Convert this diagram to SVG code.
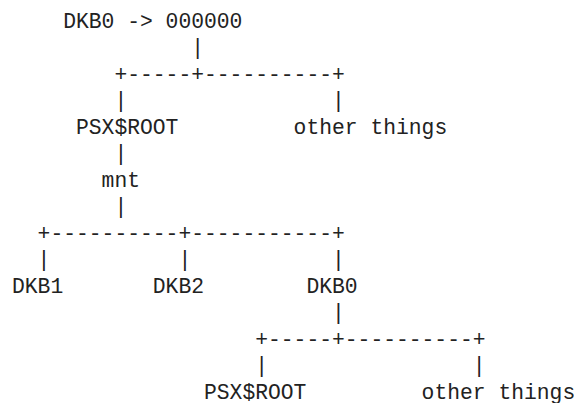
<svg xmlns="http://www.w3.org/2000/svg" width="574" height="403" viewBox="0 0 574 403">
  <style>
    text { font-family: "Liberation Mono", "DejaVu Sans Mono", monospace; font-size: 21.333px; fill: #222222; white-space: pre; }
  </style>
  <rect x="0" y="0" width="574" height="403" fill="#ffffff"/>
  <g id="connectors">
    <text x="191.2" y="54">|</text>
    <text x="114.4" y="80.5" xml:space="preserve">+-----+----------+</text>
    <text x="114.4" y="107">|</text>
    <text x="332" y="107">|</text>
    <text x="114.4" y="160">|</text>
    <text x="114.4" y="213">|</text>
    <text x="37.6" y="239.5" xml:space="preserve">+----------+-----------+</text>
    <text x="37.6" y="266">|</text>
    <text x="178.4" y="266">|</text>
    <text x="332" y="266">|</text>
    <text x="332" y="319">|</text>
    <text x="255.2" y="345.5" xml:space="preserve">+-----+----------+</text>
    <text x="255.2" y="372">|</text>
    <text x="472.8" y="372">|</text>
  </g>
  <g id="node-root"><text x="63.2" y="27.5" xml:space="preserve">DKB0 -&gt; 000000</text></g>
  <g id="node-psxroot-1"><text x="76" y="133.5">PSX$ROOT</text></g>
  <g id="node-other-1"><text x="293.6" y="133.5" xml:space="preserve">other things</text></g>
  <g id="node-mnt"><text x="101.6" y="186.5">mnt</text></g>
  <g id="node-dkb1"><text x="12" y="292.5">DKB1</text></g>
  <g id="node-dkb2"><text x="152.8" y="292.5">DKB2</text></g>
  <g id="node-dkb0"><text x="306.4" y="292.5">DKB0</text></g>
  <g id="node-psxroot-2"><text x="204" y="398.5">PSX$ROOT</text></g>
  <g id="node-other-2"><text x="421.6" y="398.5" xml:space="preserve">other things</text></g>
</svg>
